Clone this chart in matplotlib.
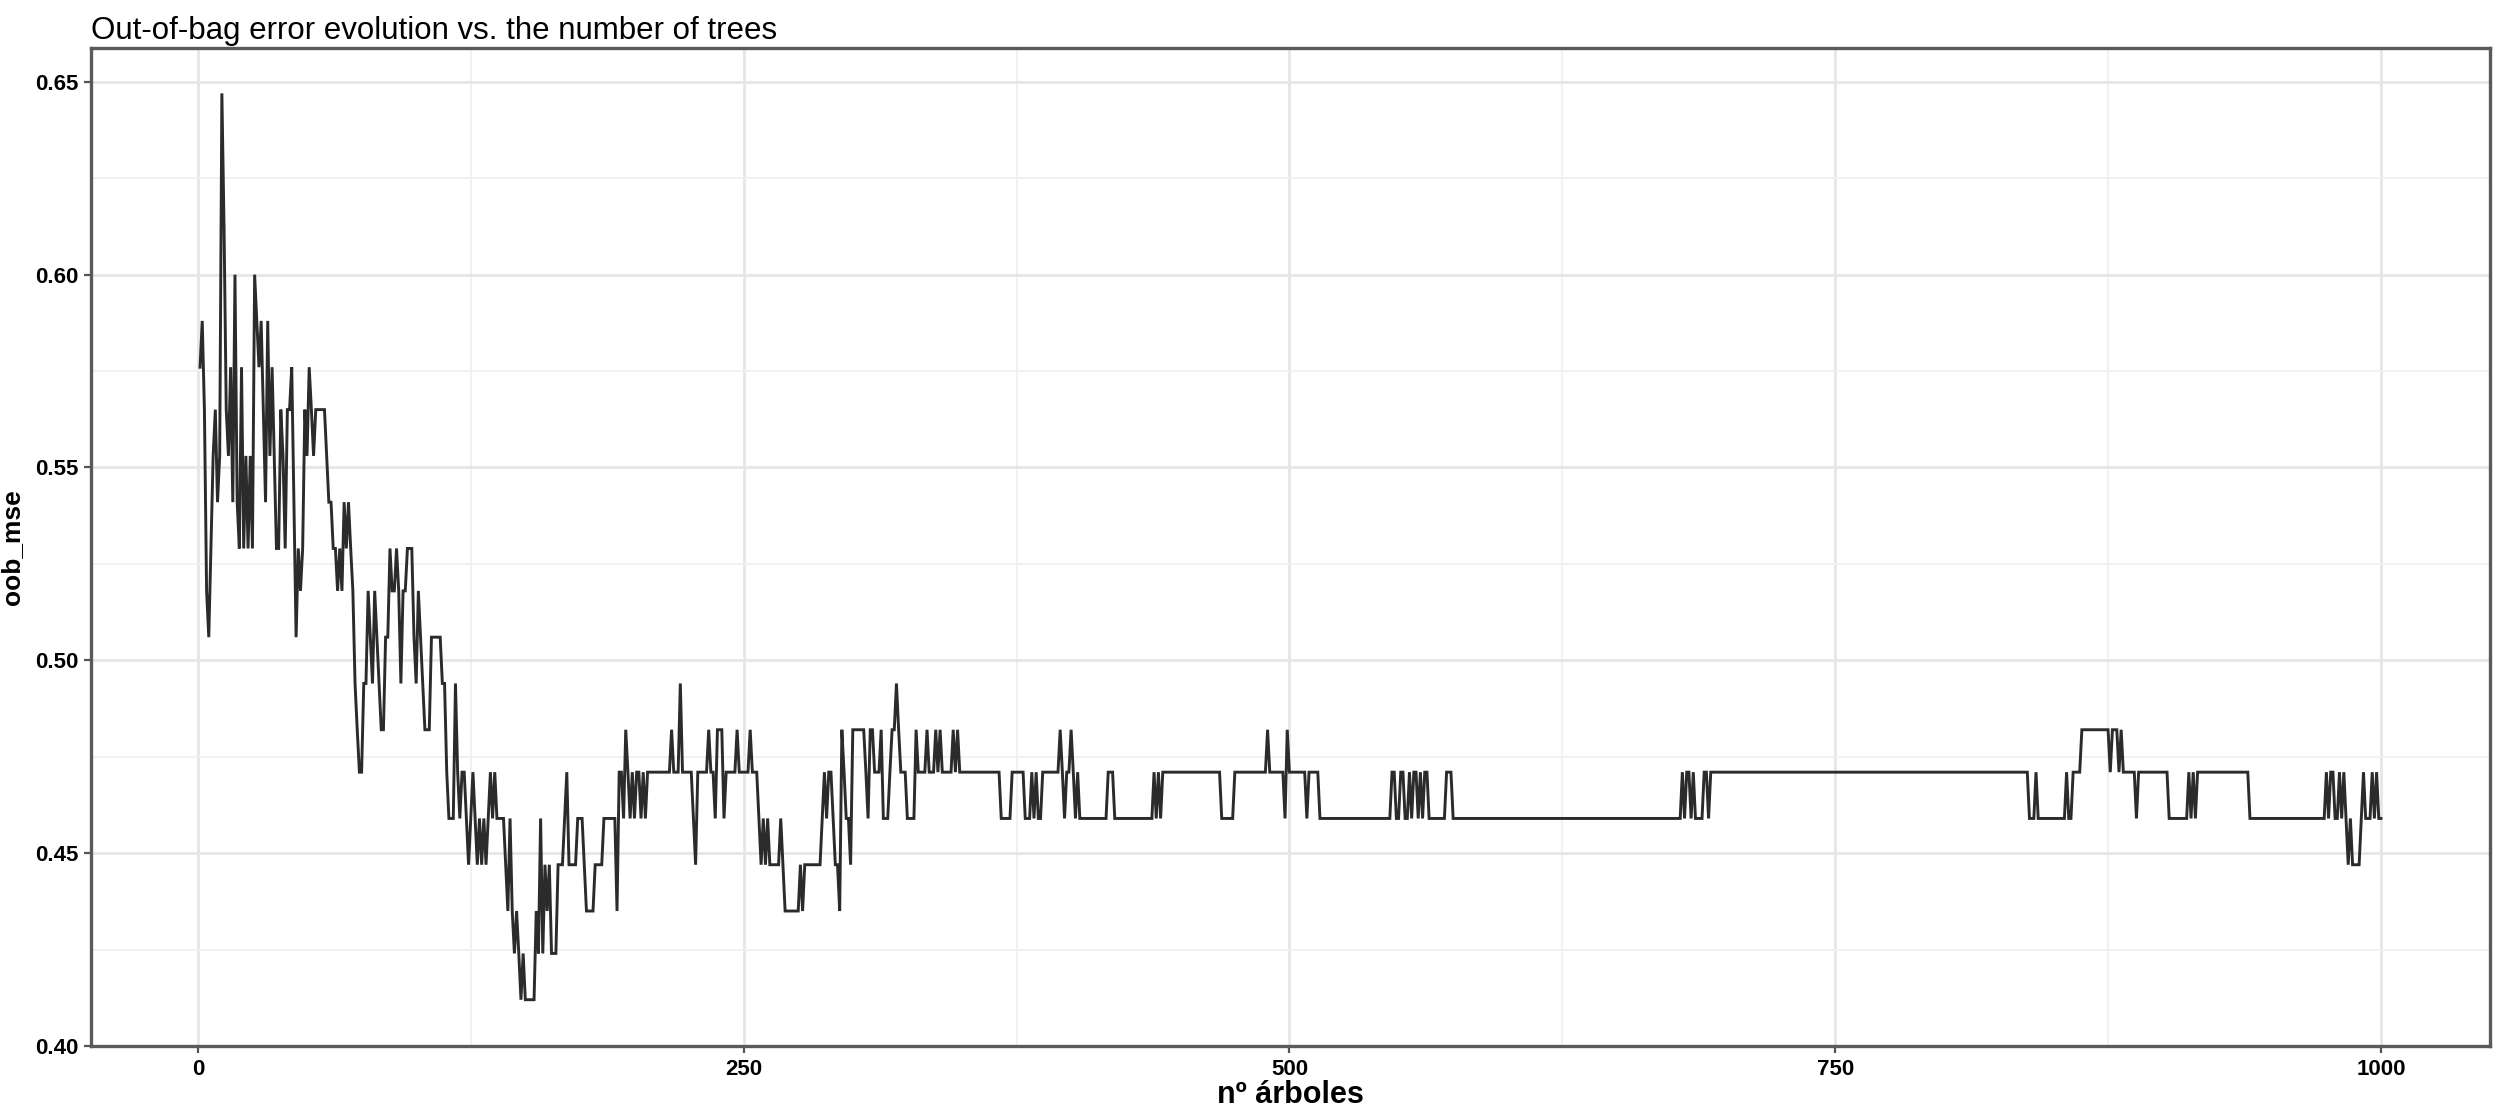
import matplotlib
matplotlib.use("Agg")
import matplotlib.pyplot as plt
from matplotlib.ticker import MultipleLocator

# ---- data: oob_mse as a run-length step series (start tree of each run, value of the run)
run_start = [
    1, 2, 3, 4, 5, 6, 7, 8, 9, 10, 11, 12, 13, 14, 15, 16, 17, 18, 19, 20,
    21, 22, 23, 24, 25, 26, 27, 28, 29, 30, 31, 32, 33, 34, 35, 36, 38, 39, 40, 41,
    43, 44, 45, 46, 47, 48, 49, 50, 51, 52, 53, 54, 59, 60, 62, 64, 65, 66, 67, 68,
    69, 70, 71, 72, 73, 74, 76, 78, 79, 80, 81, 82, 83, 84, 86, 88, 89, 91, 92, 93,
    94, 96, 99, 100, 101, 102, 103, 104, 107, 112, 114, 115, 118, 119, 120, 121, 123, 124, 125, 126,
    127, 128, 129, 130, 131, 132, 133, 134, 135, 136, 137, 141, 142, 143, 144, 145, 146, 147, 148, 149,
    150, 155, 156, 157, 158, 159, 160, 161, 162, 165, 168, 169, 170, 174, 177, 178, 182, 186, 192, 193,
    195, 196, 197, 198, 199, 200, 201, 203, 204, 205, 206, 217, 218, 221, 222, 227, 228, 229, 234, 235,
    237, 238, 241, 242, 247, 248, 253, 254, 257, 258, 259, 260, 261, 262, 267, 268, 269, 276, 277, 278,
    286, 287, 288, 289, 291, 292, 293, 294, 295, 296, 297, 299, 300, 306, 307, 308, 310, 313, 314, 317,
    318, 320, 321, 322, 325, 329, 330, 334, 335, 338, 339, 340, 341, 346, 347, 348, 349, 368, 373, 379,
    382, 383, 384, 385, 387, 395, 396, 397, 398, 400, 401, 402, 403, 404, 417, 420, 438, 439, 440, 441,
    442, 469, 475, 490, 491, 498, 499, 500, 508, 509, 514, 547, 549, 551, 553, 555, 556, 557, 559, 560,
    561, 562, 564, 572, 575, 680, 681, 682, 684, 685, 686, 690, 692, 693, 839, 842, 843, 856, 857, 859,
    863, 876, 877, 880, 881, 882, 888, 889, 903, 912, 913, 914, 915, 916, 940, 975, 976, 977, 979, 981,
    982, 983, 984, 985, 986, 987, 991, 992, 993, 996, 997, 998, 999,
]
oob_mse = [
    0.576, 0.588, 0.565, 0.518, 0.506, 0.529, 0.553, 0.565, 0.541, 0.553, 0.647, 0.612, 0.565, 0.553, 0.576, 0.541, 0.600, 0.541, 0.529, 0.576,
    0.529, 0.553, 0.529, 0.553, 0.529, 0.600, 0.588, 0.576, 0.588, 0.565, 0.541, 0.588, 0.553, 0.576, 0.553, 0.529, 0.565, 0.553, 0.529, 0.565,
    0.576, 0.541, 0.506, 0.529, 0.518, 0.529, 0.565, 0.553, 0.576, 0.565, 0.553, 0.565, 0.553, 0.541, 0.529, 0.518, 0.529, 0.518, 0.541, 0.529,
    0.541, 0.529, 0.518, 0.494, 0.482, 0.471, 0.494, 0.518, 0.506, 0.494, 0.518, 0.506, 0.494, 0.482, 0.506, 0.529, 0.518, 0.529, 0.518, 0.494,
    0.518, 0.529, 0.506, 0.494, 0.518, 0.506, 0.494, 0.482, 0.506, 0.494, 0.471, 0.459, 0.494, 0.471, 0.459, 0.471, 0.459, 0.447, 0.459, 0.471,
    0.459, 0.447, 0.459, 0.447, 0.459, 0.447, 0.459, 0.471, 0.459, 0.471, 0.459, 0.447, 0.435, 0.459, 0.435, 0.424, 0.435, 0.424, 0.412, 0.424,
    0.412, 0.435, 0.424, 0.459, 0.424, 0.447, 0.435, 0.447, 0.424, 0.447, 0.459, 0.471, 0.447, 0.459, 0.447, 0.435, 0.447, 0.459, 0.435, 0.471,
    0.459, 0.482, 0.471, 0.459, 0.471, 0.459, 0.471, 0.459, 0.471, 0.459, 0.471, 0.482, 0.471, 0.494, 0.471, 0.459, 0.447, 0.471, 0.482, 0.471,
    0.459, 0.482, 0.459, 0.471, 0.482, 0.471, 0.482, 0.471, 0.459, 0.447, 0.459, 0.447, 0.459, 0.447, 0.459, 0.447, 0.435, 0.447, 0.435, 0.447,
    0.459, 0.471, 0.459, 0.471, 0.459, 0.447, 0.447, 0.435, 0.482, 0.471, 0.459, 0.447, 0.482, 0.471, 0.459, 0.482, 0.471, 0.482, 0.459, 0.471,
    0.482, 0.494, 0.482, 0.471, 0.459, 0.482, 0.471, 0.482, 0.471, 0.482, 0.471, 0.482, 0.471, 0.482, 0.471, 0.482, 0.471, 0.459, 0.471, 0.459,
    0.471, 0.459, 0.471, 0.459, 0.471, 0.482, 0.471, 0.459, 0.471, 0.482, 0.471, 0.459, 0.471, 0.459, 0.471, 0.459, 0.471, 0.459, 0.471, 0.459,
    0.471, 0.459, 0.471, 0.482, 0.471, 0.459, 0.482, 0.471, 0.459, 0.471, 0.459, 0.471, 0.459, 0.471, 0.459, 0.471, 0.459, 0.471, 0.459, 0.471,
    0.459, 0.471, 0.459, 0.471, 0.459, 0.471, 0.459, 0.471, 0.459, 0.471, 0.459, 0.471, 0.459, 0.471, 0.459, 0.471, 0.459, 0.471, 0.459, 0.471,
    0.482, 0.471, 0.482, 0.471, 0.482, 0.471, 0.459, 0.471, 0.459, 0.471, 0.459, 0.471, 0.459, 0.471, 0.459, 0.471, 0.459, 0.471, 0.459, 0.471,
    0.459, 0.471, 0.459, 0.447, 0.459, 0.447, 0.459, 0.471, 0.459, 0.471, 0.459, 0.471, 0.459,
]
last_tree = 1000
assert len(run_start) == len(oob_mse)

x_ticks = [0, 250, 500, 750, 1000]
y_ticks = [0.40, 0.45, 0.50, 0.55, 0.60, 0.65]

title = "Out-of-bag error evolution vs. the number of trees"
x_label = "nº árboles"
y_label = "oob_mse"

# ---- build the line points (one point per tree at the ends of each run, like geom_line)
run_end = run_start[1:] + [last_tree + 1]
xs, ys = [], []
for s, e, v in zip(run_start, run_end, oob_mse):
    xs += [s, e - 1]
    ys += [v, v]

NARROW = ["Liberation Sans Narrow", "Liberation Sans", "DejaVu Sans"]
REGULAR = ["Liberation Sans", "DejaVu Sans"]

fig = plt.figure(figsize=(25, 11.07), dpi=100)
ax = fig.add_axes([0.0364, 0.0551, 0.9596, 0.9015])

ax.plot(xs, ys, color="#2b2b2b", lw=2.1, solid_joinstyle="miter", zorder=3)

# ggplot-like default expansion (5%)
xmin, xmax = 1, last_tree
ymin, ymax = min(oob_mse), max(oob_mse)
ax.set_xlim(xmin - 0.05 * (xmax - xmin), xmax + 0.05 * (xmax - xmin))
ax.set_ylim(ymin - 0.05 * (ymax - ymin), ymax + 0.05 * (ymax - ymin))

ax.set_xticks(x_ticks)
ax.set_yticks(y_ticks)
ax.set_xticklabels([str(t) for t in x_ticks])
ax.set_yticklabels([f"{t:.2f}" for t in y_ticks])
ax.xaxis.set_minor_locator(MultipleLocator(125))
ax.yaxis.set_minor_locator(MultipleLocator(0.025))

ax.grid(which="major", color="#e6e6e6", lw=2.0, zorder=0)
ax.grid(which="minor", color="#f0f0f0", lw=1.3, zorder=0)
ax.set_axisbelow(True)

for sp in ax.spines.values():
    sp.set_color("#5a5a5a")
    sp.set_linewidth(2.4)

ax.tick_params(axis="both", which="major", length=5, width=1.6, color="#555555",
               labelsize=16, labelcolor="black", pad=4)
ax.tick_params(axis="both", which="minor", length=0)
for lab in ax.get_xticklabels() + ax.get_yticklabels():
    lab.set_fontfamily(NARROW)
    lab.set_fontweight("bold")

ax.set_xlabel(x_label, fontsize=22, fontweight="bold", family=REGULAR, labelpad=0)
ax.set_ylabel(y_label, fontsize=19, fontweight="bold", family=NARROW, labelpad=8)
fig.text(0.0364, 0.972, title, fontsize=22.5, family=NARROW, ha="left", va="center")

fig.savefig("out.png", dpi=100, facecolor="white")
